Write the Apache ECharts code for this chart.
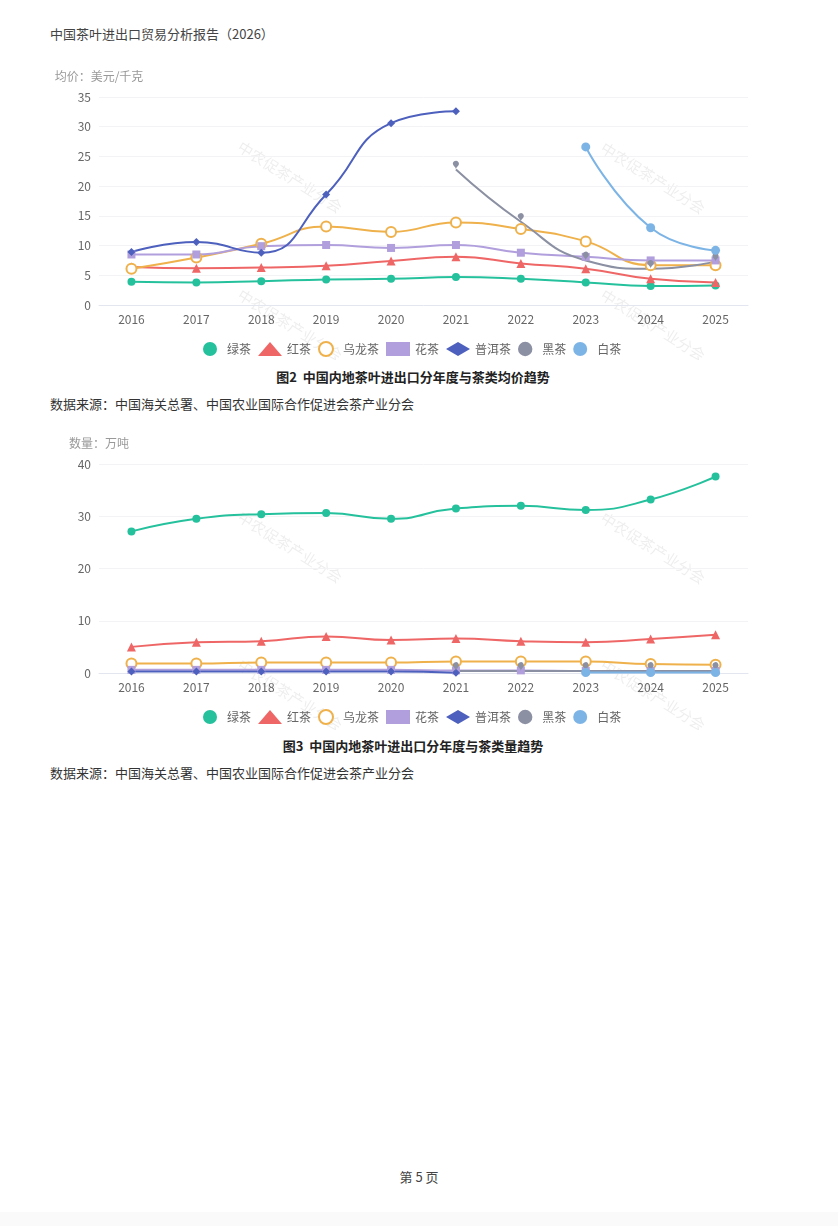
<!DOCTYPE html>
<html>
<head>
<meta charset="utf-8">
<title>中国茶叶进出口贸易分析报告（2026）</title>
<script src="https://cdn.jsdelivr.net/npm/echarts@6/dist/echarts.min.js"></script>
<style>
html, body { margin:0; padding:0; background:#fafafa; }
body { font-family:"Noto Sans CJK SC","Noto Sans",sans-serif; color:#333; }
#page { position:relative; width:838px; height:1212px; background:#fff; }
.txt { position:absolute; white-space:nowrap; }
#head { left:50px; top:24px; font-size:13px; color:#444; }
.chart { position:absolute; left:0; width:838px; height:300px; }
.cap { left:0; width:826px; text-align:center; font-size:13px; font-weight:bold; color:#222; }
.src { left:50px; font-size:13px; color:#333; }
#foot { left:0; width:838px; top:1167px; text-align:center; font-size:13px; color:#444; }
</style>
</head>
<body>
<div id="page">
	<div class="txt" id="head">中国茶叶进出口贸易分析报告（2026）</div>
	<div class="chart" id="chart_price" style="top:60px"></div>
	<div class="txt cap" style="top:367px">图2&nbsp;&nbsp;中国内地茶叶进出口分年度与茶类均价趋势</div>
	<div class="txt src" style="top:394px">数据来源：中国海关总署、中国农业国际合作促进会茶产业分会</div>
	<div class="chart" id="chart_volume" style="top:430px"></div>
	<div class="txt cap" style="top:736px">图3&nbsp;&nbsp;中国内地茶叶进出口分年度与茶类量趋势</div>
	<div class="txt src" style="top:763px">数据来源：中国海关总署、中国农业国际合作促进会茶产业分会</div>
	<div class="txt" id="foot">第 5 页</div>
</div>
<script>
// 年份与茶类
var years = ['2016','2017','2018','2019','2020','2021','2022','2023','2024','2025'];
var teaNames = ['绿茶','红茶','乌龙茶','花茶','普洱茶','黑茶','白茶'];
var teaSymbols = ['circle','triangle','emptyCircle','rect','diamond','pin','circle'];
var teaColors = ['#25c19d','#ef6666','#efb14b','#b09fdc','#4d60bd','#8b90a2','#7db4e6'];

// 图2 均价（美元/千克）
var priceGreen  = [3.9, 3.8, 4.0, 4.3, 4.4, 4.7, 4.4, 3.8, 3.2, 3.3];
var priceBlack  = [6.4, 6.2, 6.3, 6.6, 7.4, 8.1, 7.0, 6.1, 4.4, 3.8];
var priceOolong = [6.1, 8.0, 10.3, 13.2, 12.3, 13.9, 12.8, 10.7, 6.7, 6.7];
var priceFlower = [8.5, 8.5, 9.9, 10.1, 9.6, 10.1, 8.8, 8.1, 7.5, 7.5];
var pricePuer   = [8.9, 10.6, 8.8, 18.6, 30.6, 32.6, null, null, null, null];
var priceDark   = [null, null, null, null, null, 22.8, 14.0, 7.5, 6.1, 7.3];
var priceWhite  = [null, null, null, null, null, null, null, 26.6, 13.0, 9.2];
var priceTicks  = {min: 0, max: 35, interval: 5};

// 图3 数量（万吨）
var volGreen  = [27.1, 29.5, 30.4, 30.6, 29.5, 31.5, 32.0, 31.2, 33.2, 37.6];
var volBlack  = [5.0, 5.9, 6.1, 7.0, 6.3, 6.6, 6.1, 5.9, 6.5, 7.3];
var volOolong = [1.8, 1.8, 2.0, 2.0, 2.0, 2.2, 2.2, 2.2, 1.7, 1.6];
var volFlower = [0.6, 0.6, 0.6, 0.6, 0.6, 0.5, 0.5, 0.4, 0.4, 0.4];
var volPuer   = [0.3, 0.3, 0.3, 0.3, 0.3, 0.05, null, null, null, null];
var volDark   = [null, null, null, null, null, 0.4, 0.4, 0.4, 0.4, 0.4];
var volWhite  = [null, null, null, null, null, null, null, 0.1, 0.1, 0.1];
var volTicks  = {min: 0, max: 40, interval: 10};

var FONT = '"Noto Sans CJK SC","Noto Sans",sans-serif';
var symbolSizes = [8, 9, 10, 8, 8, 10, 9];

window.onload = function() {
	echart_price();
	echart_volume();
};

function watermark() {
	// 水印：中农促茶产业分会
	var pos = [[290,117],[653,118],[290,265],[653,265]];
	var g = [];
	for (var i = 0; i < pos.length; i++) {
		g.push({
			type: 'text',
			x: pos[i][0],
			y: pos[i][1],
			rotation: -0.56,
			silent: true,
			z: 0,
			style: {
				text: '中农促茶产业分会',
				fill: 'rgba(0,0,0,0.07)',
				font: '15px ' + FONT,
				align: 'center',
				verticalAlign: 'middle'
			}
		});
	}
	return g;
}

function buildOption(axisName, ticks, lists, gridTop, gridBottom, legendTop) {
	var series = [];
	for (var i = 0; i < teaNames.length; i++) {
		series.push({
			name: teaNames[i],
			type: 'line',
			smooth: true,
			symbol: teaSymbols[i],
			symbolSize: symbolSizes[i],
			showSymbol: true,
			connectNulls: false,
			lineStyle: {width: 2, color: teaColors[i]},
			itemStyle: {color: teaColors[i], borderWidth: teaSymbols[i] == 'emptyCircle' ? 2 : 0},
			data: lists[i]
		});
	}
	return {
		animation: false,
		color: teaColors,
		textStyle: {fontFamily: FONT},
		graphic: watermark(),
		legend: {
			left: 198,
			top: legendTop,
			itemWidth: 24,
			itemHeight: 14,
			itemGap: 7,
			textStyle: {color: '#666', fontSize: 12},
			data: teaNames.map(function(n, i) {
				return {name: n, icon: teaSymbols[i]};
			})
		},
		grid: {
			left: 99,
			right: 90,
			top: gridTop,
			bottom: gridBottom
		},
		xAxis: [{
			type: 'category',
			boundaryGap: true,
			data: years,
			axisTick: {show: false},
			axisLine: {lineStyle: {color: '#e3e6ee'}},
			axisLabel: {color: '#666', fontSize: 12, margin: 8}
		}],
		yAxis: [{
			type: 'value',
			name: axisName,
			nameGap: 15,
			nameTextStyle: {color: '#999', fontSize: 12},
			min: ticks.min,
			max: ticks.max,
			interval: ticks.interval,
			axisLabel: {color: '#666', fontSize: 12, margin: 8},
			splitLine: {lineStyle: {color: '#f3f3f5'}}
		}],
		series: series
	};
}

function echart_price() {
	var myChart = echarts.init(document.getElementById('chart_price'));
	var option = buildOption('均价：美元/千克', priceTicks,
		[priceGreen, priceBlack, priceOolong, priceFlower, pricePuer, priceDark, priceWhite],
		37, 55, 276);
	myChart.setOption(option);
}

function echart_volume() {
	var myChart = echarts.init(document.getElementById('chart_volume'));
	var option = buildOption('数量：万吨', volTicks,
		[volGreen, volBlack, volOolong, volFlower, volPuer, volDark, volWhite],
		34, 57, 274);
	myChart.setOption(option);
}
</script>
</body>
</html>
